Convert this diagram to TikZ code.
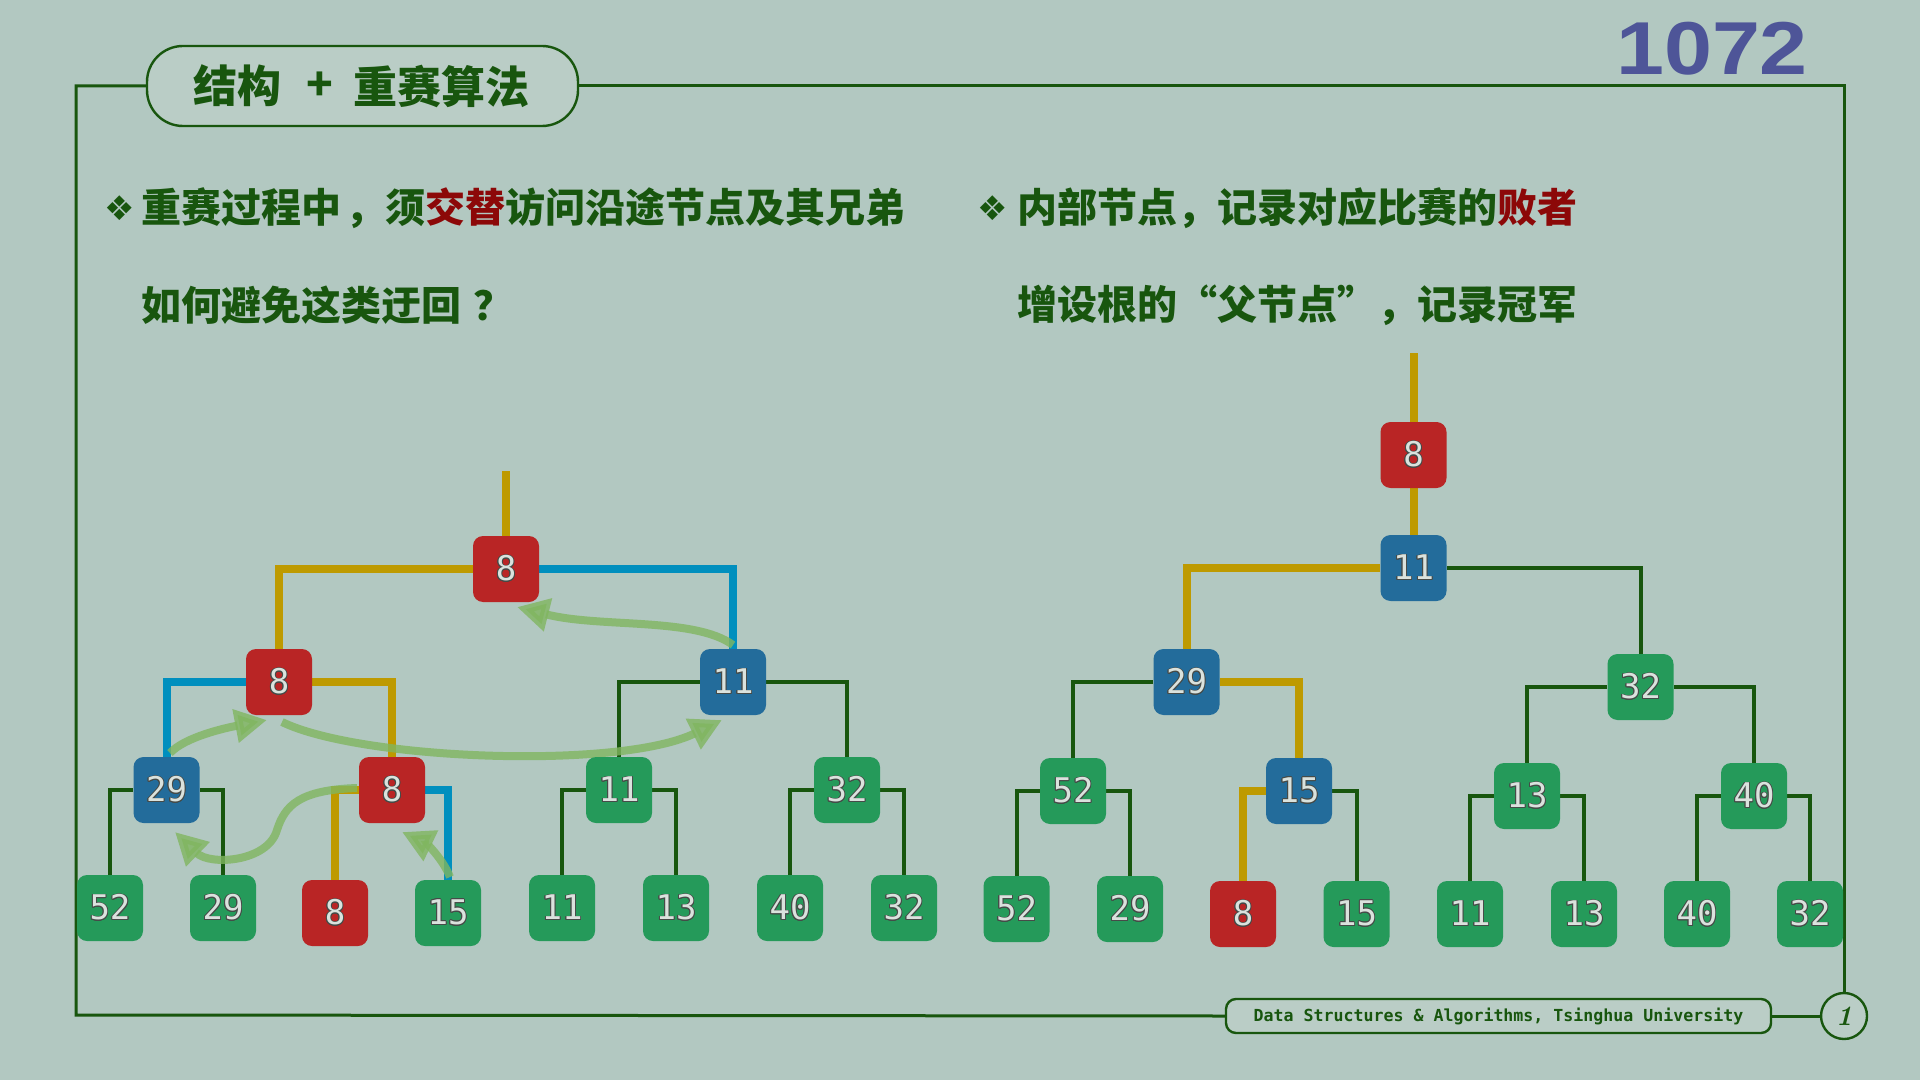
\documentclass[tikz,border=0pt]{standalone}
\usepackage{fontspec}
\usepackage{contour}
\usetikzlibrary{arrows.meta}
\newfontfamily\cjk{Noto Sans CJK SC}
\newfontfamily\dmono{DejaVu Sans Mono}
\newfontfamily\dsans{DejaVu Sans}
\newfontfamily\lsans{Liberation Sans}
\definecolor{bgc}{RGB}{178,200,193}
\definecolor{boxc}{RGB}{186,205,198}
\definecolor{fgreen}{RGB}{24,86,14}
\definecolor{hred}{RGB}{140,8,8}
\definecolor{numblue}{RGB}{78,85,152}
\definecolor{goldc}{RGB}{190,154,0}
\definecolor{cyanc}{RGB}{0,143,190}
\definecolor{nred}{RGB}{185,37,37}
\definecolor{nblue}{RGB}{35,108,155}
\definecolor{ngreen}{RGB}{37,154,90}
\definecolor{digitc}{RGB}{218,226,221}
\definecolor{edgec}{RGB}{70,75,72}
\definecolor{arrc}{RGB}{128,182,96}
\contourlength{0.45pt}
\contournumber{16}
\newcommand{\dg}[1]{\contour{edgec}{#1}}
\pgfdeclarelayer{lines}
\pgfdeclarelayer{arrl}
\pgfsetlayers{lines,arrl,main}
\tikzset{
  nd/.style={rounded corners=5pt, minimum width=33pt, minimum height=33pt, inner sep=0pt,
    text=digitc, font=\dmono\fontsize{17pt}{20pt}\selectfont},
  rd/.style={nd, fill=nred},
  bd/.style={nd, fill=nblue},
  gd/.style={nd, fill=ngreen},
  gl/.style={draw=goldc, line width=4pt},
  cl/.style={draw=cyanc, line width=4pt},
  kl/.style={draw=fgreen, line width=2pt},
  framel/.style={draw=fgreen, line width=1.5pt},
  garr/.style={draw=arrc, line width=4pt, opacity=0.8, -{Triangle[length=16pt,width=16pt]}},
  txt/.style={inner sep=0pt, anchor=west, text=fgreen, font=\cjk\bfseries\fontsize{20pt}{24pt}\selectfont},
  bul/.style={inner sep=0pt, text=fgreen, font=\dsans\fontsize{17pt}{20pt}\selectfont}
}
\begin{document}
\begin{tikzpicture}[x=0.5pt,y=-0.5pt]
\useasboundingbox (0,0) rectangle (1920,1080);
\begin{pgfonlayer}{lines}
\fill[bgc] (0,0) rectangle (1920,1080);
\end{pgfonlayer}

% header
\node[draw=fgreen, line width=1.2pt, fill=boxc, rounded corners=18pt, minimum width=215.5pt, minimum height=40pt, inner sep=0pt] (title) at (362.5,86) {};
\node[inner sep=0pt, text=fgreen, font=\cjk\bfseries\fontsize{22pt}{26pt}\selectfont, anchor=west] (t1) at (193,86) {结构};
\node[inner sep=0pt, text=fgreen, font=\cjk\bfseries\fontsize{22pt}{26pt}\selectfont] (t2) at (320,86) {+};
\node[inner sep=0pt, text=fgreen, font=\cjk\bfseries\fontsize{22pt}{26pt}\selectfont, anchor=west] (t3) at (353,86) {重赛算法};
\node[inner sep=0pt, text=numblue, font=\lsans\bfseries\fontsize{37.5pt}{40pt}\selectfont, xscale=1.15] (num) at (1712,49) {1072};

% footer
\node[draw=fgreen, line width=1.2pt, fill=boxc, rounded corners=5pt, minimum width=272.5pt, minimum height=17pt, inner sep=0pt, text=fgreen, font=\dmono\bfseries\fontsize{8.3pt}{10pt}\selectfont] (foot) at (1498.5,1016) {Data Structures \& Algorithms, Tsinghua University};
\node[circle, draw=fgreen, line width=1.2pt, fill=boxc, minimum size=23pt, inner sep=0pt, text=fgreen, font=\bfseries\itshape\fontsize{14pt}{16pt}\selectfont] (pg) at (1844,1016) {1};

% frame
\coordinate (ctl) at (76,86);
\coordinate (cbl) at (76,1015);
\coordinate (ctr) at (1844,86);
\draw[framel] (title.west) -- (ctl) -- (cbl) -- (foot.west);
\draw[framel] (title.east) -- (ctr) -- (pg.north);
\draw[framel] (foot.east) -- (pg.west);

% texts
\node[bul] (b1) at (120,208) {❖};
\node[txt] (l1) at (141,208) {重赛过程中\hspace{2pt}，须\textcolor{hred}{交替}访问沿途节点及其兄弟};
\node[txt] (l2) at (141,305) {如何避免这类迂回\hspace{6pt}？};
\node[bul] (b2) at (993,208) {❖};
\node[txt] (r1) at (1017,208) {内部节点，记录对应比赛的\textcolor{hred}{败者}};
\node[txt] (r2) at (1017,305) {增设根的“父节点”，记录冠军};

% left tree
\node[rd] (lr) at (506,569) {\dg{8}};
\node[rd] (la) at (279,682) {\dg{8}};
\node[bd] (lb) at (733,682) {\dg{11}};
\node[bd] (lc1) at (166.5,790) {\dg{29}};
\node[rd] (lc2) at (392,790) {\dg{8}};
\node[gd] (lc3) at (619,790) {\dg{11}};
\node[gd] (lc4) at (847,790) {\dg{32}};
\node[gd] (ld1) at (110,908) {\dg{52}};
\node[gd] (ld2) at (223,908) {\dg{29}};
\node[rd] (ld3) at (335,913) {\dg{8}};
\node[gd] (ld4) at (448,913) {\dg{15}};
\node[gd] (ld5) at (562,908) {\dg{11}};
\node[gd] (ld6) at (676,908) {\dg{13}};
\node[gd] (ld7) at (790,908) {\dg{40}};
\node[gd] (ld8) at (904,908) {\dg{32}};
\coordinate (ltop) at (506,471);

% right tree
\node[rd] (rr) at (1413.5,455) {\dg{8}};
\node[bd] (ra) at (1413.5,568) {\dg{11}};
\node[bd] (rb1) at (1186.5,682) {\dg{29}};
\node[gd] (rb2) at (1640.5,687) {\dg{32}};
\node[gd] (rc1) at (1073,791) {\dg{52}};
\node[bd] (rc2) at (1299,791) {\dg{15}};
\node[gd] (rc3) at (1527,796) {\dg{13}};
\node[gd] (rc4) at (1754,796) {\dg{40}};
\node[gd] (re1) at (1016.5,909) {\dg{52}};
\node[gd] (re2) at (1130,909) {\dg{29}};
\node[rd] (re3) at (1243,914) {\dg{8}};
\node[gd] (re4) at (1356.5,914) {\dg{15}};
\node[gd] (re5) at (1470,914) {\dg{11}};
\node[gd] (re6) at (1584,914) {\dg{13}};
\node[gd] (re7) at (1697,914) {\dg{40}};
\node[gd] (re8) at (1810,914) {\dg{32}};
\coordinate (rtop) at (1413.5,353);

\begin{pgfonlayer}{lines}
% left connectors
\draw[gl] (lr.north) -- (ltop);
\draw[gl] (lr.west) -| (la.north);
\draw[cl] (lr.east) -| (lb.north);
\draw[cl] (la.west) -| (lc1.north);
\draw[gl] (la.east) -| (lc2.north);
\draw[kl] (lb.west) -| (lc3.north);
\draw[kl] (lb.east) -| (lc4.north);
\draw[kl] (lc1.west) -| (ld1.north);
\draw[kl] (lc1.east) -| (ld2.north);
\draw[gl] (lc2.west) -| (ld3.north);
\draw[cl] (lc2.east) -| (ld4.north);
\draw[kl] (lc3.west) -| (ld5.north);
\draw[kl] (lc3.east) -| (ld6.north);
\draw[kl] (lc4.west) -| (ld7.north);
\draw[kl] (lc4.east) -| (ld8.north);
% right connectors
\draw[gl] (rr.north) -- (rtop);
\draw[gl] (rr.south) -- (ra.north);
\draw[gl] (ra.west) -| (rb1.north);
\draw[kl] (ra.east) -| (rb2.north);
\draw[kl] (rb1.west) -| (rc1.north);
\draw[gl] (rb1.east) -| (rc2.north);
\draw[kl] (rb2.west) -| (rc3.north);
\draw[kl] (rb2.east) -| (rc4.north);
\draw[kl] (rc1.west) -| (re1.north);
\draw[kl] (rc1.east) -| (re2.north);
\draw[gl] (rc2.west) -| (re3.north);
\draw[kl] (rc2.east) -| (re4.north);
\draw[kl] (rc3.west) -| (re5.north);
\draw[kl] (rc3.east) -| (re6.north);
\draw[kl] (rc4.west) -| (re7.north);
\draw[kl] (rc4.east) -| (re8.north);
\end{pgfonlayer}

% green curved arrows
\coordinate (a1s) at (733,645);
\coordinate (a1e) at (517,607);
\coordinate (a2s) at (170,753);
\coordinate (a2e) at (267,720);
\coordinate (a3s) at (282,722);
\coordinate (a3e) at (722,720);
\coordinate (a4s) at (357,788);
\coordinate (a4m) at (277,830);
\coordinate (a4e) at (175,832);
\coordinate (a5s) at (450,877);
\coordinate (a5e) at (402,832);
\begin{pgfonlayer}{arrl}
\draw[garr] (a1s) .. controls (695,617) and (600,628) .. (a1e);
\draw[garr] (a2s) .. controls (185,737) and (225,728) .. (a2e);
\draw[garr] (a3s) .. controls (360,760) and (620,770) .. (a3e);
\draw[garr] (a4s) .. controls (300,790) and (285,805) .. (a4m) .. controls (268,862) and (210,866) .. (a4e);
\draw[garr] (a5s) .. controls (442,857) and (425,843) .. (a5e);
\end{pgfonlayer}
\end{tikzpicture}
\end{document}
